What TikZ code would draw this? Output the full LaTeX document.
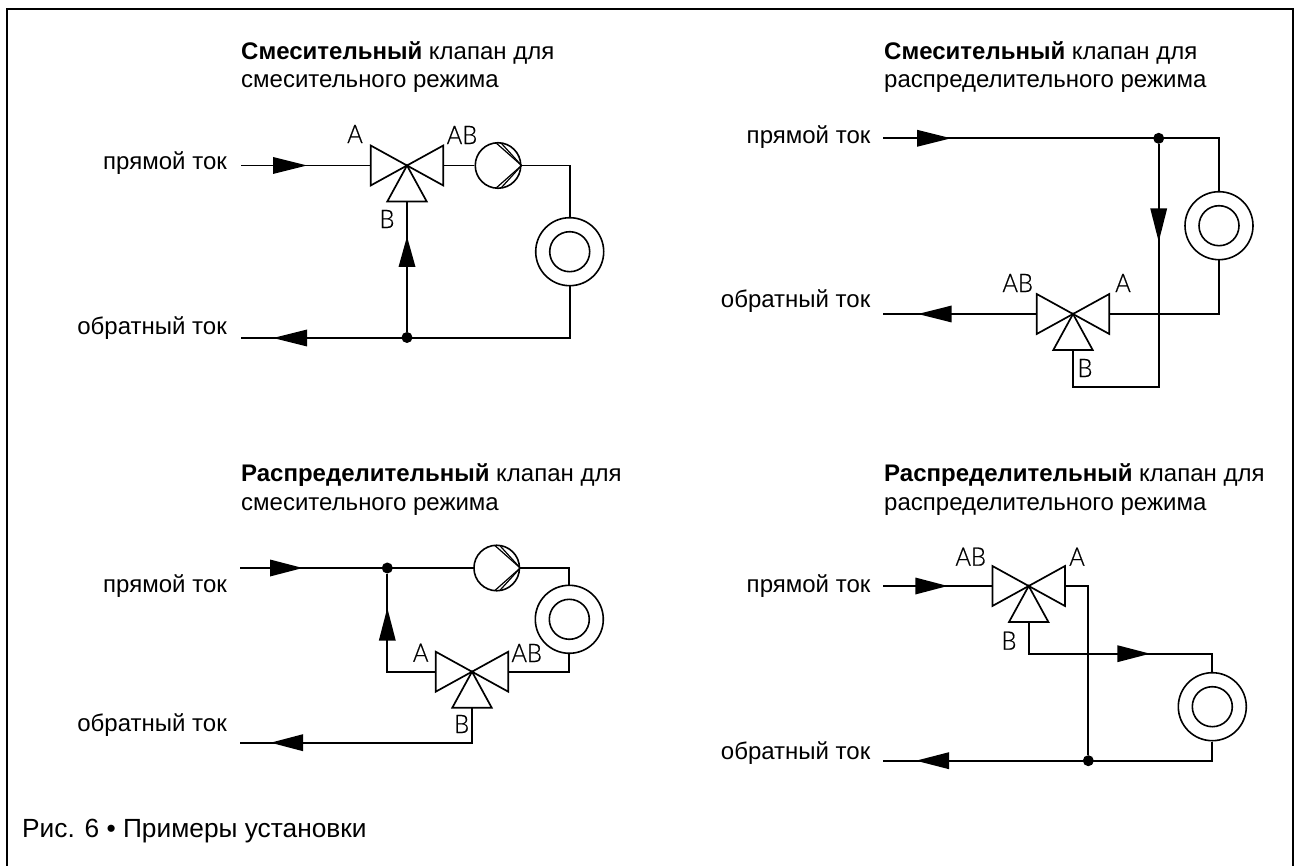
\documentclass[tikz,border=0pt]{standalone}
\usepackage{fontspec}
\setmainfont{Liberation Sans}
\newfontfamily\valvefont[FakeBold=0.6]{Lato Light}
\tikzset{
  pipe/.style={line width=1.7pt,line join=miter},
  ring/.style={circle,draw,line width=1.6pt,inner sep=0pt,fill=white},
  junction/.style={circle,fill=black,inner sep=0pt,minimum size=11pt},
  txt/.style={font=\fontsize{24}{27}\selectfont,inner sep=0pt,align=left},
  captxt/.style={font=\fontsize{26.3}{30}\selectfont,inner sep=0pt,align=left},
  port/.style={font=\valvefont\fontsize{25.5}{25.5}\selectfont,inner sep=0pt,anchor=center,xscale=.93},
}
% valve: name, x, y
\newcommand{\valvesym}[3]{%
  \coordinate (#1c) at (#2,#3);
  \coordinate (#1l) at (#2-36.3,#3);
  \coordinate (#1r) at (#2+36.3,#3);
  \coordinate (#1b) at (#2,#3+36);
  \draw[pipe,fill=white] (#1c) -- (#2-36.3,#3-20) -- (#2-36.3,#3+20) -- cycle;
  \draw[pipe,fill=white] (#1c) -- (#2+36.3,#3-20) -- (#2+36.3,#3+20) -- cycle;
  \draw[pipe,fill=white] (#1c) -- (#2-19.7,#3+36) -- (#2+19.7,#3+36) -- cycle;
}
% pump: name, x, y
\newcommand{\pumpsym}[3]{%
  \node[ring,minimum size=45.5pt] (#1) at (#2,#3) {};
  \draw[line width=1.2pt] (#1.east) -- (#2-1.5,#3-22.2) (#1.east) -- (#2-1.5,#3+22.2);
  \draw[line width=1.2pt] (#1.east) -- (#2+3.5,#3-22) (#1.east) -- (#2+3.5,#3+22);
}
% heater: name, x, y
\newcommand{\heatsym}[3]{%
  \node[ring,minimum size=68pt] (#1) at (#2,#3) {};
  \node[ring,minimum size=40pt] (#1i) at (#2,#3) {};
}
% flow arrows: base, line, tip
\newcommand{\flowh}[3]{\fill (#1,#2-8.5) -- (#3,#2) -- (#1,#2+8.5) -- cycle;}
\newcommand{\flowv}[3]{\fill (#1-8.5,#2) -- (#1,#3) -- (#1+8.5,#2) -- cycle;}
\begin{document}
\begin{tikzpicture}[x=1pt,y=-1pt]
\useasboundingbox (0,0) rectangle (1298,866);
\draw[line width=2.4pt] (6.8,867) -- (6.8,9) -- (1293,9) -- (1293,867);

% ---- titles
\node[txt,anchor=base west] (t1a) at (241,60) {\textbf{Смесительный} клапан для};
\node[txt,anchor=base west] (t1b) at (241,87.3) {смесительного режима};
\node[txt,anchor=base west] (t2a) at (884,60) {\textbf{Смесительный} клапан для};
\node[txt,anchor=base west] (t2b) at (884,87.3) {распределительного режима};
\node[txt,anchor=base west] (t3a) at (241,481.7) {\textbf{Распределительный} клапан для};
\node[txt,anchor=base west] (t3b) at (241,510) {смесительного режима};
\node[txt,anchor=base west] (t4a) at (884,481.7) {\textbf{Распределительный} клапан для};
\node[txt,anchor=base west] (t4b) at (884,510) {распределительного режима};
\node[captxt,anchor=base west] (cap) at (22,837) {Рис. 6 • Примеры установки};

% ---- side labels
\node[txt,anchor=base east] (p1) at (227,170) {прямой ток};
\node[txt,anchor=base east] (o1) at (227,335) {обратный ток};
\node[txt,anchor=base east] (p2) at (870.5,143.3) {прямой ток};
\node[txt,anchor=base east] (o2) at (870.5,307.3) {обратный ток};
\node[txt,anchor=base east] (p3) at (227,592.7) {прямой ток};
\node[txt,anchor=base east] (o3) at (227,731) {обратный ток};
\node[txt,anchor=base east] (p4) at (870.5,592.7) {прямой ток};
\node[txt,anchor=base east] (o4) at (870.5,759.3) {обратный ток};

% ---- diagram 1
\coordinate (s1) at (241,165.5);
\coordinate (r1) at (241,338);
\coordinate (c1) at (569.7,338);
\coordinate (tc1) at (569.7,165.5);
\heatsym{h1}{569.7}{251.7}
\pumpsym{u1}{498}{165.5}
\draw[pipe] (u1.east) -- (tc1) -- (h1.north);
\draw[pipe] (h1.south) -- (c1) -- (r1);
\node[junction] (j1) at (407,337.5) {};
\valvesym{v1}{407}{165.5}
\draw[pipe] (s1) -- (v1l);
\draw[pipe] (v1r) -- (u1.west);
\draw[pipe] (v1b) -- (j1);
\flowh{273}{165.5}{307}
\flowh{307}{338}{273}
\flowv{407}{267}{236.5}
\node[port] (a1) at (355,134) {A};
\node[port] (ab1) at (462,135) {AB};
\node[port] (b1) at (387,219) {B};

% ---- diagram 2
\coordinate (s2) at (883,138.3);
\coordinate (tc2) at (1219,138.3);
\coordinate (r2) at (883,314);
\coordinate (c2) at (1219,314);
\coordinate (d2) at (1158.7,386.7);
\coordinate (e2) at (1073,386.7);
\heatsym{h2}{1219}{225.7}
\node[junction] (j2) at (1158.7,138.3) {};
\valvesym{v2}{1073}{314}
\draw[pipe] (s2) -- (tc2) -- (h2.north);
\draw[pipe] (j2) -- (d2) -- (e2) -- (v2b);
\draw[pipe] (h2.south) -- (c2) -- (v2r);
\draw[pipe] (v2l) -- (r2);
\flowh{917}{138.3}{951}
\flowh{951.7}{314}{918}
\flowv{1158.7}{208.3}{241.7}
\node[port] (a2) at (1123,283) {A};
\node[port] (ab2) at (1017.7,283) {AB};
\node[port] (b2) at (1085,368) {B};

% ---- diagram 3
\coordinate (s3) at (240,568);
\coordinate (tc3) at (569.3,568);
\coordinate (c3) at (569.3,671.7);
\coordinate (lc3) at (387.3,671.7);
\coordinate (bc3) at (472,742.7);
\coordinate (r3) at (240,742.7);
\heatsym{h3}{569.3}{619.3}
\pumpsym{u3}{496.7}{568}
\node[junction] (j3) at (387.3,568) {};
\valvesym{v3}{472}{671.7}
\draw[pipe] (s3) -- (u3.west);
\draw[pipe] (u3.east) -- (tc3) -- (h3.north);
\draw[pipe] (h3.south) -- (c3) -- (v3r);
\draw[pipe] (j3) -- (lc3) -- (v3l);
\draw[pipe] (v3b) -- (bc3) -- (r3);
\flowh{270}{568}{302.7}
\flowh{303}{742.7}{270.7}
\flowv{387.3}{640.7}{608}
\node[port] (a3) at (420.7,652.7) {A};
\node[port] (ab3) at (526.7,653) {AB};
\node[port] (b3) at (461.7,724) {B};

% ---- diagram 4
\coordinate (s4) at (883,586);
\coordinate (tr4) at (1088.3,586);
\coordinate (m4) at (1028.7,653.7);
\coordinate (mr4) at (1212.3,653.7);
\coordinate (br4) at (1212.3,760.7);
\coordinate (r4) at (883,760.7);
\heatsym{h4}{1212.3}{706.7}
\valvesym{v4}{1028.7}{586}
\node[junction] (j4) at (1088.3,760.7) {};
\draw[pipe] (s4) -- (v4l);
\draw[pipe] (v4r) -- (tr4) -- (j4);
\draw[pipe] (v4b) -- (m4) -- (mr4) -- (h4.north);
\draw[pipe] (h4.south) -- (br4) -- (r4);
\flowh{915.3}{586}{947.7}
\flowh{1117.3}{653.7}{1150}
\flowh{949}{760.7}{916}
\node[port] (a4) at (1077,556.7) {A};
\node[port] (ab4) at (970.7,556.7) {AB};
\node[port] (b4) at (1009,640.7) {B};
\end{tikzpicture}
\end{document}
